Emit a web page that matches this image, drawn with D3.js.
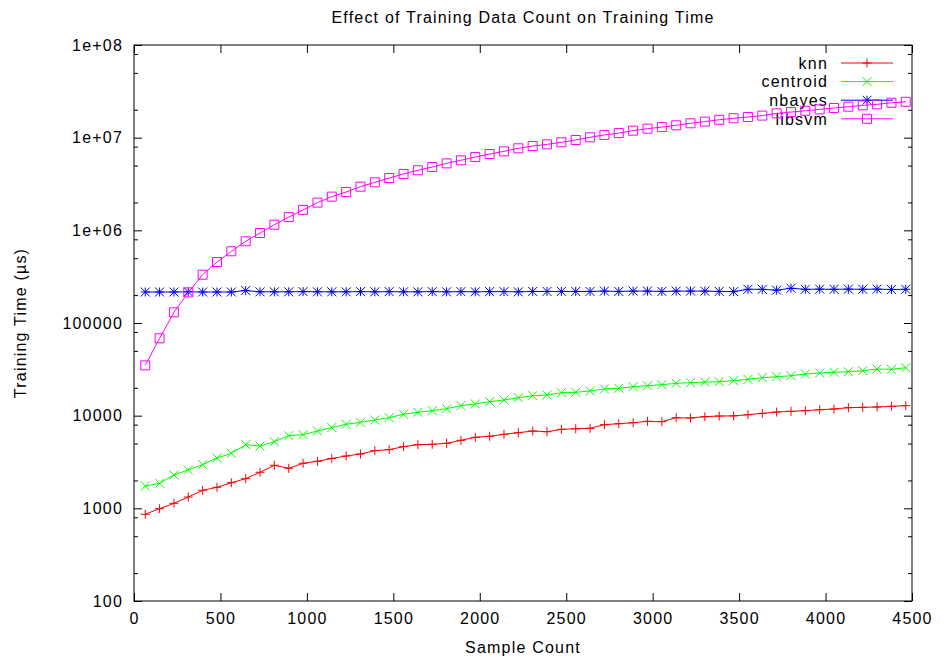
<!DOCTYPE html>
<html>
<head>
<meta charset="utf-8">
<script src="https://cdn.jsdelivr.net/npm/d3@7"></script>
<style>
  body { margin: 0; background: #fff; }
  svg text { font-family: "Liberation Sans", Arial, sans-serif; font-size: 16px; letter-spacing: 1.2px; fill: #000; }
</style>
</head>
<body>
<div id="app"></div>
<script>
const sampleCounts = [65, 148, 231, 314, 397, 480, 563, 646, 729, 812, 895, 978, 1061, 1144, 1227, 1310, 1393, 1476,
  1559, 1642, 1725, 1808, 1891, 1974, 2057, 2140, 2223, 2306, 2389, 2472, 2555, 2638, 2721, 2804, 2887, 2970,
  3053, 3136, 3219, 3302, 3385, 3468, 3551, 3634, 3717, 3800, 3883, 3966, 4049, 4132, 4215, 4298, 4381, 4464];

const knnTimes = [863, 991, 1133, 1325, 1566, 1687, 1891, 2090, 2449, 2914, 2705, 3063, 3218, 3450, 3670, 3860, 4190, 4300,
  4630, 4860, 4910, 5030, 5420, 5840, 5990, 6290, 6550, 6830, 6710, 7120, 7230, 7310, 7990, 8190, 8390, 8690,
  8610, 9510, 9440, 9750, 9910, 9950, 10240, 10590, 10940, 11130, 11320, 11590, 11800, 12190, 12300, 12400, 12610, 12820];

const centroidTimes = [1741, 1862, 2290, 2594, 2960, 3494, 3925, 4866, 4710, 5238, 6081, 6233, 6828, 7450, 8070, 8480, 8980, 9510,
  10350, 10870, 11320, 11890, 12820, 13370, 14150, 14760, 15630, 16410, 16700, 17700, 17870, 18460, 19400, 19740, 20540, 21060,
  21590, 22330, 22690, 23080, 23250, 23820, 24660, 25690, 26330, 26970, 28170, 28860, 29370, 29820, 30550, 31870, 31620, 32940];

const nbayesTimes = [216000, 216000, 216000, 217000, 216000, 216000, 216000, 224000, 217000, 217000, 217000, 218000, 217000, 217000, 217000, 218000, 217000, 218000,
  217000, 217000, 218000, 217000, 218000, 217000, 218000, 218000, 217000, 219000, 219000, 219000, 219000, 219000, 221000, 219000, 221000, 221000,
  219000, 221000, 221000, 221000, 219000, 218000, 231000, 231000, 226000, 237000, 231000, 232000, 231000, 232000, 231000, 232000, 230000, 231000];

const libsvmTimes = [34900, 68400, 130400, 214000, 332000, 455000, 594000, 762000, 936000, 1150000, 1390000, 1660000, 1990000, 2310000, 2590000, 2960000, 3300000, 3670000,
  4060000, 4450000, 4820000, 5280000, 5700000, 6180000, 6660000, 7120000, 7680000, 8130000, 8470000, 8910000, 9440000, 10100000, 10700000, 11200000, 11900000, 12500000,
  13000000, 13600000, 14300000, 14900000, 15600000, 16200000, 16700000, 17300000, 18300000, 18900000, 19500000, 20200000, 20900000, 21600000, 22300000, 22900000, 23800000, 24400000];

const seriesNames = ["knn", "centroid", "nbayes", "libsvm"];
const seriesColors = ["#ff0000", "#00ff00", "#0000ff", "#ff00ff"];
const seriesMarkers = ["plus", "cross", "star", "square"];

const xTickValues = [0, 500, 1000, 1500, 2000, 2500, 3000, 3500, 4000, 4500];
const yTickValues = [100, 1000, 10000, 100000, 1e6, 1e7, 1e8];
const yTickLabels = ["100", "1000", "10000", "100000", "1e+06", "1e+07", "1e+08"];
const yMinorSteps = [2, 5, 8];

const margin = { top: 45, right: 31, bottom: 59, left: 134 },
  width = 778,
  height = 556;

const svgRoot = d3.select("div#app")
  .append("svg")
  .attr("width", width + margin.left + margin.right)
  .attr("height", height + margin.top + margin.bottom);

const svgContainer = svgRoot.append("g")
  .attr("transform", `translate(${margin.left},${margin.top})`);

const x = d3.scaleLinear().domain([0, 4500]).range([0, width]);
const y = d3.scaleLog().domain([100, 1e8]).range([height, 0]);

// minor ticks for the log axis
const yMinorValues = [];
yTickValues.slice(0, -1).forEach(v => yMinorSteps.forEach(m => yMinorValues.push(v * m)));

function styleAxis(sel) {
  sel.select(".domain").remove();
  sel.selectAll(".tick line").attr("stroke", "#000").attr("stroke-width", 1);
}

// bottom + top
svgContainer.append("g")
  .attr("transform", `translate(0,${height})`)
  .call(d3.axisBottom(x).tickValues(xTickValues).tickFormat(d3.format("d")).tickSizeInner(-8).tickSizeOuter(0).tickPadding(12))
  .call(styleAxis);

svgContainer.append("g")
  .call(d3.axisTop(x).tickValues(xTickValues).tickSizeInner(-8).tickSizeOuter(0).tickFormat(""))
  .call(styleAxis);

// left + right
svgContainer.append("g")
  .call(d3.axisLeft(y).tickValues(yTickValues).tickFormat((d, i) => yTickLabels[i]).tickSizeInner(-8).tickSizeOuter(0).tickPadding(11))
  .call(styleAxis);

svgContainer.append("g")
  .call(d3.axisLeft(y).tickValues(yMinorValues).tickFormat("").tickSizeInner(-4).tickSizeOuter(0))
  .call(styleAxis);

svgContainer.append("g")
  .attr("transform", `translate(${width},0)`)
  .call(d3.axisRight(y).tickValues(yTickValues).tickFormat("").tickSizeInner(-8).tickSizeOuter(0))
  .call(styleAxis);

svgContainer.append("g")
  .attr("transform", `translate(${width},0)`)
  .call(d3.axisRight(y).tickValues(yMinorValues).tickFormat("").tickSizeInner(-4).tickSizeOuter(0))
  .call(styleAxis);

// border
svgContainer.append("rect")
  .attr("x", 0)
  .attr("y", 0)
  .attr("width", width)
  .attr("height", height)
  .style("fill", "none")
  .style("stroke", "#000")
  .style("stroke-width", 1);

function markerPath(type, s) {
  const plus = `M${-s},0H${s}M0,${-s}V${s}`;
  const cross = `M${-s},${-s}L${s},${s}M${-s},${s}L${s},${-s}`;
  if (type == "plus") return plus;
  if (type == "cross") return cross;
  if (type == "star") return plus + cross;
  return `M${-s},${-s}H${s}V${s}H${-s}Z`;
}

const seriesData = [knnTimes, centroidTimes, nbayesTimes, libsvmTimes];

const line = d3.line()
  .x(d => x(d[0]))
  .y(d => y(d[1]));

// legend sits in the top right corner (gnuplot key)
const legendX = 828 - margin.left,
  legendY = 63 - margin.top,
  legendStep = 18.6;

seriesData.forEach(function (values, i) {
  const points = sampleCounts.map((c, j) => [c, values[j]]);
  const color = seriesColors[i];
  const ly = legendY + legendStep * i;

  svgContainer.append("text")
    .attr("x", legendX)
    .attr("y", ly)
    .attr("dy", "0.36em")
    .style("text-anchor", "end")
    .text(seriesNames[i]);

  svgContainer.append("line")
    .attr("x1", legendX + 13)
    .attr("x2", legendX + 65)
    .attr("y1", ly)
    .attr("y2", ly)
    .style("stroke", color)
    .style("stroke-width", 1);

  svgContainer.append("path")
    .attr("transform", `translate(${legendX + 39},${ly})`)
    .attr("d", markerPath(seriesMarkers[i], 4.5))
    .style("fill", "none")
    .style("stroke", color);

  svgContainer.append("path")
    .datum(points)
    .attr("d", line)
    .style("fill", "none")
    .style("stroke", color)
    .style("stroke-width", 1);

  svgContainer.append("g")
    .selectAll("path")
    .data(points)
    .join("path")
    .attr("transform", d => `translate(${x(d[0])},${y(d[1])})`)
    .attr("d", markerPath(seriesMarkers[i], 4.5))
    .style("fill", "none")
    .style("stroke", color)
    .style("stroke-width", 1);
});

// title and axis labels
svgRoot.append("text")
  .attr("x", margin.left + width / 2)
  .attr("y", 17)
  .attr("dy", "0.36em")
  .style("text-anchor", "middle")
  .text("Effect of Training Data Count on Training Time");

svgRoot.append("text")
  .attr("x", margin.left + width / 2)
  .attr("y", 647)
  .attr("dy", "0.36em")
  .style("text-anchor", "middle")
  .text("Sample Count");

svgRoot.append("text")
  .attr("transform", "rotate(-90)")
  .attr("x", -323)
  .attr("y", 20)
  .attr("dy", "0.36em")
  .style("text-anchor", "middle")
  .text("Training Time (µs)");
</script>
</body>
</html>
